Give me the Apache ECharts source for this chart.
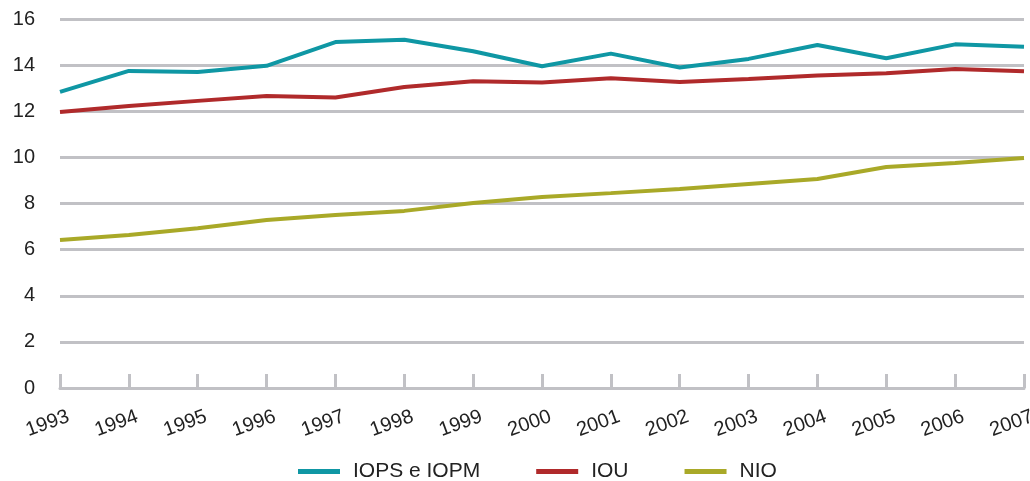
<!DOCTYPE html>
<html>
<head>
<meta charset="utf-8">
<script src="https://cdn.jsdelivr.net/npm/echarts@6/dist/echarts.min.js"></script>
<style>
html,body{margin:0;padding:0;background:#fff;}
#main{width:1030px;height:481px;}
</style>
</head>
<body>
<div id="main"></div>
<script>
var years = ['1993','1994','1995','1996','1997','1998','1999','2000','2001','2002','2003','2004','2005','2006','2007'];
var iops = [12.84, 13.75, 13.7, 13.97, 15.0, 15.1, 14.6, 13.95, 14.5, 13.9, 14.27, 14.87, 14.3, 14.9, 14.8];
var iou = [11.97, 12.23, 12.45, 12.66, 12.6, 13.05, 13.3, 13.25, 13.43, 13.27, 13.4, 13.55, 13.65, 13.83, 13.73];
var nio = [6.42, 6.63, 6.93, 7.28, 7.5, 7.68, 8.02, 8.28, 8.45, 8.63, 8.85, 9.06, 9.58, 9.76, 9.97];
var names = ['IOPS e IOPM', 'IOU', 'NIO'];
var colors = ['#0f97a4', '#b02a2b', '#a9a928'];
var gridColor = '#c1c1c5';
var font = 'Liberation Sans, Arial, sans-serif';

var chart = echarts.init(document.getElementById('main'));

function line(name, data, color) {
    return {
        name: name,
        type: 'line',
        data: data,
        symbol: 'none',
        color: color,
        lineStyle: { width: 4, color: color }
    };
}

var option = {
    animation: false,
    color: colors,
    grid: { left: 60, right: 6, top: 19, bottom: 93, outerBoundsMode: 'none', containLabel: false },
    legend: {
        top: 461,
        left: 298,
        padding: 0,
        icon: 'rect',
        itemWidth: 42,
        itemHeight: 5,
        itemGap: 56,
        textStyle: { fontFamily: font, fontSize: 21, color: '#222', padding: [0, 0, 0, 8] },
        data: names
    },
    xAxis: {
        type: 'category',
        data: years,
        boundaryGap: false,
        axisLine: { lineStyle: { color: gridColor, width: 3 } },
        axisTick: { inside: true, length: 14, lineStyle: { color: gridColor, width: 3 }, alignWithLabel: true },
        axisLabel: { rotate: 20, margin: 31, fontFamily: font, fontSize: 20, color: '#222', interval: 0, padding: [0, -9, 0, 0] }
    },
    yAxis: {
        type: 'value',
        min: 0,
        max: 16,
        interval: 2,
        axisLine: { show: false },
        axisTick: { show: false },
        axisLabel: { margin: 25, fontFamily: font, fontSize: 20, color: '#222' },
        splitLine: { lineStyle: { color: gridColor, width: 3 } }
    },
    series: [
        line(names[0], iops, colors[0]),
        line(names[1], iou, colors[1]),
        line(names[2], nio, colors[2])
    ]
};

chart.setOption(option);
</script>
</body>
</html>
